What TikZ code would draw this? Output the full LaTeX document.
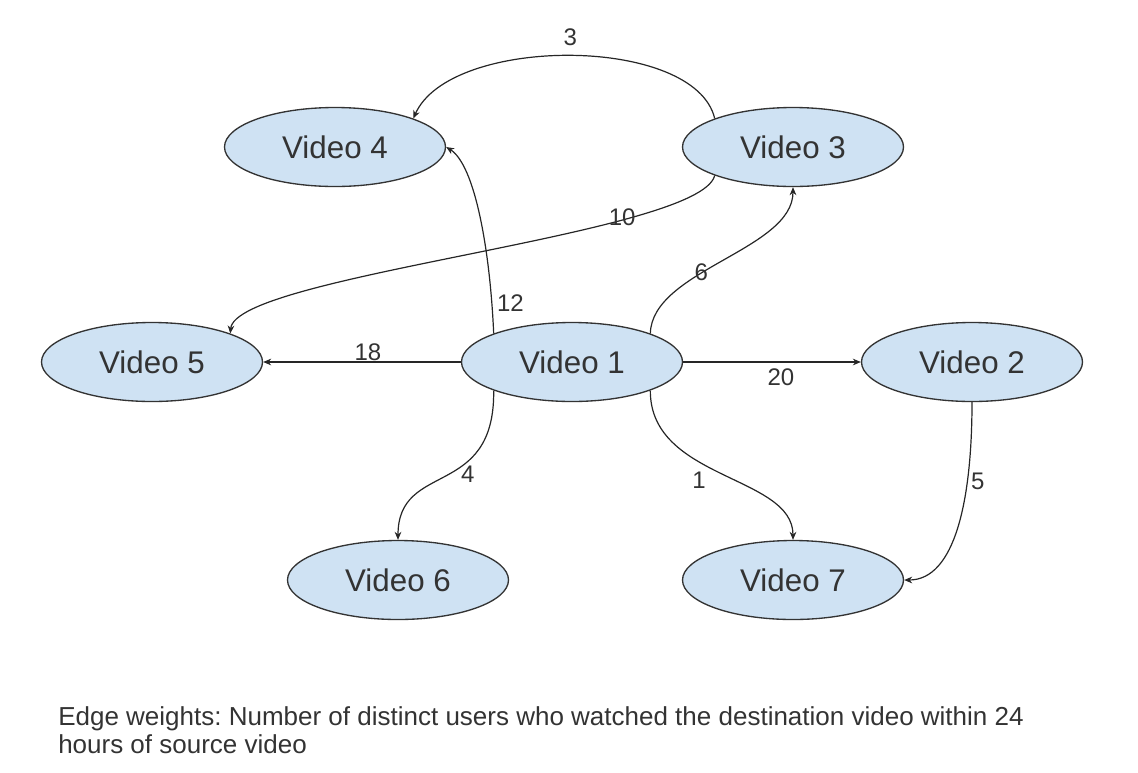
\documentclass[tikz,border=0pt]{standalone}
\usepackage{fontspec}
\setmainfont{Liberation Sans}
\usetikzlibrary{arrows.meta,shapes.geometric}
\definecolor{vidfill}{HTML}{CFE2F3}
\definecolor{inkgray}{HTML}{333333}
\frenchspacing
\tikzset{
	vid/.style={ellipse, draw=black!80, line width=1pt, fill=vidfill, minimum width=165.75pt, minimum height=59.25pt, inner sep=0pt, text=inkgray, font=\fontsize{23.5}{28}\selectfont},
	wt/.style={line width=0.9pt, draw=black!85, -{Stealth[length=6pt,width=5pt]}},
	lbl/.style={inner sep=1.5pt, text=inkgray, font=\fontsize{18}{21}\selectfont},
	notetext/.style={align=left, inner sep=0pt, text=inkgray, font=\fontsize{19.5}{21}\selectfont}
}

\begin{document}
\begin{tikzpicture}[x=0.75pt, y=-0.75pt]
		%%%%% START %%%%%
		\useasboundingbox (0,0) rectangle (1138,772);
		
		\node[vid] (v4) at (335,147) {Video 4};
		\node[vid] (v3) at (793,147) {Video 3};
		\node[vid] (v5) at (152,362) {Video 5};
		\node[vid] (v1) at (572,362) {Video 1};
		\node[vid] (v2) at (972,362) {Video 2};
		\node[vid] (v6) at (398,580) {Video 6};
		\node[vid] (v7) at (793,580) {Video 7};
		
		% top row
		\draw[wt] (v3.160) .. controls (695,35) and (450,35) .. (v4.20) node[lbl, pos=0.5, above=6pt] (w3) {3};
		\draw[wt] (v1.160) .. controls (490,250) and (475,165) .. (v4.east) node[lbl, pos=0.12, right=2pt] (w12) {12};
		\draw[wt] (v3.200) .. controls (700,235) and (235,275) .. (v5.20) node[lbl, pos=0.27, above=-4.5pt, inner sep=0pt] (w10) {10};
		\draw[wt] (v1.20) .. controls (652,270) and (793,250) .. (v3.south) node[lbl, pos=0.4] (w6) {6};
		
		% middle row
		\draw[wt] (v1.west) -- (v5.east) node[lbl, pos=0.47, above=0pt, inner sep=0.5pt] (w18) {18};
		\draw[wt] (v1.east) -- (v2.west) node[lbl, pos=0.55, below=3pt] (w20) {20};
		
		% bottom row
		\draw[wt] (v1.200) .. controls (495,500) and (398,460) .. (v6.north) node[lbl, pos=0.48, right=7pt] (w4) {4};
		\draw[wt] (v1.340) .. controls (650,480) and (793,475) .. (v7.north) node[lbl, pos=0.5, left=10pt, yshift=-4pt] (w1) {1};
		\draw[wt] (v2.south) .. controls (972,500) and (955,580) .. (v7.east) node[lbl, pos=0.29, right=1pt] (w5) {5};
		
		\node[notetext, anchor=north west] (note) at (58,706) {Edge weights: Number of distinct users who watched the destination video within 24\\hours of source video};
		
		%%%%% END %%%%%
	\end{tikzpicture}
\end{document}
